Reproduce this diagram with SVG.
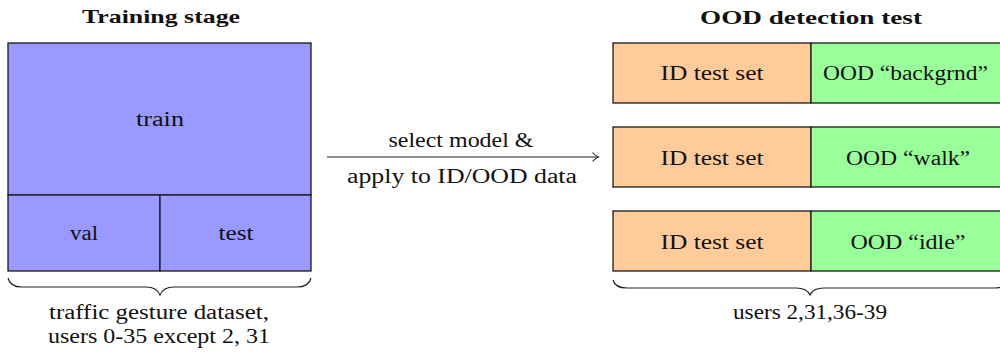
<svg xmlns="http://www.w3.org/2000/svg" width="1000" height="353" viewBox="0 0 1000 353">
<style>
text{font-size:20px;fill:#111;text-anchor:middle}
.t{font-weight:bold;font-size:19px}
.box{stroke:#1a1a1a;stroke-width:1.3}
.blue{fill:#9999ff}
.orange{fill:#ffcc99}
.green{fill:#99ff99}
.brace{fill:none;stroke:#222;stroke-width:1.2}
.conn{fill:none;stroke:#222;stroke-width:1.1}
</style>
<defs>
<marker id="arr" markerWidth="12" markerHeight="12" refX="8" refY="6" orient="auto" markerUnits="userSpaceOnUse">
<path d="M2.5,1.5 Q5,4.5 8.5,6 Q5,7.5 2.5,10.5" fill="none" stroke="#222" stroke-width="1.1"/>
</marker>
</defs>
<text class="t" font-family="Liberation Serif" x="161" y="23" textLength="158" lengthAdjust="spacingAndGlyphs">Training stage</text>
<text class="t" font-family="Liberation Serif" x="811" y="24" textLength="222" lengthAdjust="spacingAndGlyphs">OOD detection test</text>
<g id="train">
<rect class="box blue" x="8" y="43" width="303" height="152"/>
<text font-family="Liberation Serif" x="160" y="126" textLength="48" lengthAdjust="spacingAndGlyphs">train</text>
</g>
<g id="val">
<rect class="box blue" x="8" y="195" width="152" height="76"/>
<text font-family="Liberation Serif" x="84" y="240" textLength="28" lengthAdjust="spacingAndGlyphs">val</text>
</g>
<g id="test">
<rect class="box blue" x="160" y="195" width="151" height="76"/>
<text font-family="Liberation Serif" x="236" y="240" textLength="35" lengthAdjust="spacingAndGlyphs">test</text>
</g>
<g id="dataset-brace">
<path class="brace" d="M8,278 Q10,287 22,287 L146,287 Q157,287 160,295 Q163,287 174,287 L297,287 Q309,287 311,278"/>
<text font-family="Liberation Serif" x="159" y="319" textLength="220" lengthAdjust="spacingAndGlyphs">traffic gesture dataset,</text>
<text font-family="Liberation Serif" x="159" y="343" textLength="222" lengthAdjust="spacingAndGlyphs">users 0-35 except 2, 31</text>
</g>
<g id="connectors">
<line class="conn" x1="327" y1="157" x2="598" y2="157" marker-end="url(#arr)"/>
<text font-family="Liberation Serif" x="461" y="147" textLength="145" lengthAdjust="spacingAndGlyphs">select model &amp;</text>
<text font-family="Liberation Serif" x="462" y="183" textLength="230" lengthAdjust="spacingAndGlyphs">apply to ID/OOD data</text>
</g>
<g id="row-backgrnd">
<rect class="box orange" x="613" y="43" width="198" height="60"/>
<rect class="box green" x="811" y="43" width="200" height="60"/>
<text font-family="Liberation Serif" x="712" y="80" textLength="103" lengthAdjust="spacingAndGlyphs">ID test set</text>
<text font-family="Liberation Serif" x="905.5" y="80" textLength="165" lengthAdjust="spacingAndGlyphs">OOD “backgrnd”</text>
</g>
<g id="row-walk">
<rect class="box orange" x="613" y="127" width="198" height="60"/>
<rect class="box green" x="811" y="127" width="200" height="60"/>
<text font-family="Liberation Serif" x="712" y="165" textLength="103" lengthAdjust="spacingAndGlyphs">ID test set</text>
<text font-family="Liberation Serif" x="908" y="165" textLength="124" lengthAdjust="spacingAndGlyphs">OOD “walk”</text>
</g>
<g id="row-idle">
<rect class="box orange" x="613" y="211" width="198" height="60"/>
<rect class="box green" x="811" y="211" width="200" height="60"/>
<text font-family="Liberation Serif" x="712" y="249" textLength="103" lengthAdjust="spacingAndGlyphs">ID test set</text>
<text font-family="Liberation Serif" x="908" y="249" textLength="115" lengthAdjust="spacingAndGlyphs">OOD “idle”</text>
</g>
<g id="test-brace">
<path class="brace" d="M613,280 Q615,288 627,288 L796,288 Q807,288 810,295 Q813,288 824,288 L994,288 Q1006,288 1008,280"/>
<text font-family="Liberation Serif" x="810" y="319" textLength="154" lengthAdjust="spacingAndGlyphs">users 2,31,36-39</text>
</g>
</svg>
